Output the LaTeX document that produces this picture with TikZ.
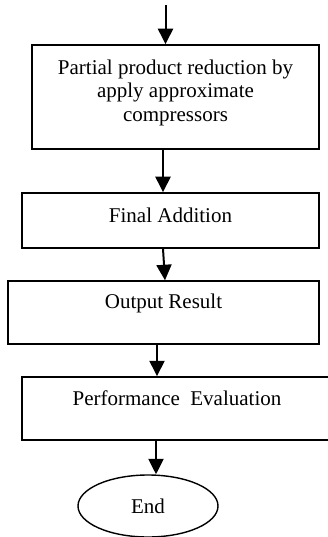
\documentclass[tikz,border=0pt]{standalone}
\usepackage{fontspec}
\setmainfont{Liberation Serif}
\usetikzlibrary{arrows.meta,shapes.geometric}

\tikzset{
  box/.style={draw, line width=1.5pt, rectangle, inner sep=0pt, align=center,
    font=\fontsize{21}{23.5}\selectfont},
  term/.style={draw, line width=1.4pt, ellipse, inner sep=0pt,
    font=\fontsize{21}{23.5}\selectfont},
  arr/.style={line width=2pt, -{Triangle[width=15pt,length=15.5pt]}}
}

\begin{document}
\begin{tikzpicture}[x=1pt, y=-1pt]
      \useasboundingbox (0,0) rectangle (327,537);

      \coordinate (start) at (165.5, 5);

      \node [box, minimum width=287pt, minimum height=104pt, text depth=13pt] (reduce) at (175.5, 97)
        {Partial product reduction by\\ apply approximate\\ compressors};
      \node [box, minimum width=297pt, minimum height=55pt, text depth=11pt] (addition) at (170.5, 220.5)
        {Final Addition};
      \node [box, minimum width=311pt, minimum height=63pt, text depth=23pt] (output) at (163.5, 312.5)
        {Output Result};
      \node [box, minimum width=310pt, minimum height=63pt, text depth=21pt] (perf) at (177, 408.5)
        {Performance\ \ Evaluation};
      \node [term, minimum width=140pt, minimum height=62pt] (end) at (148, 506) {End};

      \draw [arr] (start) -- (reduce.north -| start);
      \draw [arr] ([xshift=-12.5pt]reduce.south) -- ([xshift=-7.5pt]addition.north);
      \draw [arr] ([xshift=-7.5pt]addition.south) -- ([xshift=1.5pt]output.north);
      \draw [arr] ([xshift=-6.5pt]output.south) -- ([xshift=-20pt]perf.north);
      \draw [arr] ([xshift=-21pt]perf.south) -- ([xshift=8pt]end.north);

      %!% bottom box and the ellipse run off the page edge, as in the scan
\end{tikzpicture}
\end{document}
